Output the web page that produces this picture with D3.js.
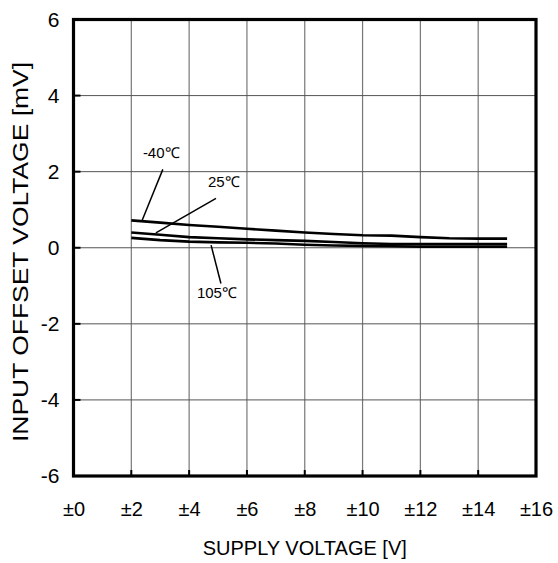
<!DOCTYPE html>
<html>
<head>
<meta charset="utf-8">
<script src="https://cdn.jsdelivr.net/npm/d3@7"></script>
<style>
  body { margin: 0; background: #fff; }
  svg { display: block; }
  text { font-family: "Liberation Sans", Arial, Helvetica, sans-serif; fill: #000; }
</style>
</head>
<body>
<svg id="canvas" width="558" height="563"></svg>
<script>
// supply voltage (±V) and input offset voltage (mV) per temperature
var supply = [2, 3, 4, 5, 6, 7, 8, 9, 10, 11, 12, 13, 14, 15];
var offsetM40 = [0.72, 0.66, 0.60, 0.55, 0.50, 0.45, 0.40, 0.36, 0.33, 0.32, 0.28, 0.25, 0.24, 0.24];
var offset25 = [0.40, 0.34, 0.28, 0.25, 0.22, 0.20, 0.18, 0.15, 0.12, 0.10, 0.10, 0.10, 0.10, 0.10];
var offset105 = [0.26, 0.20, 0.16, 0.14, 0.13, 0.11, 0.08, 0.06, 0.05, 0.04, 0.03, 0.03, 0.03, 0.03];

var xTicks = [0, 2, 4, 6, 8, 10, 12, 14, 16];
var yTicks = [-6, -4, -2, 0, 2, 4, 6];

// curve labels: text anchor and leader line, in data units
var labelNames = ["-40℃", "25℃", "105℃"];
var labelAt = [[2.40, 2.36], [4.65, 1.60], [4.27, -1.32]];
var leaderFrom = [[3.09, 2.06], [4.93, 1.30], [4.76, 0.07]];
var leaderTo = [[2.38, 0.73], [2.85, 0.39], [5.10, -0.94]];

draw();

function draw() {
	var left = 73.5, right = 536, top = 19.5, bottom = 476;

	var svg = d3.select("#canvas");
	var x = d3.scaleLinear().domain([0, 16]).range([left, right]);
	var y = d3.scaleLinear().domain([-6, 6]).range([bottom, top]);

	// grid
	svg.append("g").selectAll("line")
		.data(xTicks.slice(1, -1))
		.enter().append("line")
		.attr("x1", function(d){ return x(d); })
		.attr("x2", function(d){ return x(d); })
		.attr("y1", top).attr("y2", bottom)
		.attr("style", "stroke: #777; stroke-width: 1.2;");

	svg.append("g").selectAll("line")
		.data(yTicks.slice(1, -1))
		.enter().append("line")
		.attr("y1", function(d){ return y(d); })
		.attr("y2", function(d){ return y(d); })
		.attr("x1", left).attr("x2", right)
		.attr("style", "stroke: #555; stroke-width: 1;");

	// small inward stubs on left and bottom
	svg.append("g").selectAll("line")
		.data(yTicks.slice(1, -1))
		.enter().append("line")
		.attr("y1", function(d){ return y(d); })
		.attr("y2", function(d){ return y(d); })
		.attr("x1", left).attr("x2", left + 7)
		.attr("style", "stroke: #000; stroke-width: 2;");

	svg.append("g").selectAll("line")
		.data(xTicks.slice(1, -1))
		.enter().append("line")
		.attr("x1", function(d){ return x(d); })
		.attr("x2", function(d){ return x(d); })
		.attr("y1", bottom).attr("y2", bottom - 6)
		.attr("style", "stroke: #000; stroke-width: 2;");

	// axes labels
	var xAxis = d3.axisBottom(x).tickValues(xTicks).tickSize(0).tickPadding(26)
		.tickFormat(function(d){ return "±" + d; });
	var gx = svg.append("g").attr("transform", "translate(0," + bottom + ")").call(xAxis);
	gx.select(".domain").remove();
	gx.selectAll("text").attr("style", "font-size: 20px;");

	var yAxis = d3.axisLeft(y).tickValues(yTicks).tickSize(0).tickPadding(14)
		.tickFormat(function(d){ return String(d); });
	var gy = svg.append("g").attr("transform", "translate(" + left + ",0)").call(yAxis);
	gy.select(".domain").remove();
	gy.selectAll("text").attr("style", "font-size: 21px;");

	// curves
	var line = d3.line()
		.x(function(d){ return x(d[0]); })
		.y(function(d){ return y(d[1]); });

	[offsetM40, offset25, offset105].forEach(function(vals){
		var pts = supply.map(function(s, i){ return [s, vals[i]]; });
		svg.append("path")
			.attr("d", line(pts))
			.attr("style", "stroke-width: 2.6; stroke-linejoin: round; fill: none; stroke: #000;");
	});

	// labels with leaders
	for (var i = 0; i < labelNames.length; i++) {
		svg.append("line")
			.attr("x1", x(leaderFrom[i][0])).attr("y1", y(leaderFrom[i][1]))
			.attr("x2", x(leaderTo[i][0])).attr("y2", y(leaderTo[i][1]))
			.attr("style", "stroke: #000; stroke-width: 1.5;");
		svg.append("text")
			.attr("x", x(labelAt[i][0]))
			.attr("y", y(labelAt[i][1]))
			.attr("style", "font-size: 15px;")
			.text(labelNames[i]);
	}

	// frame
	svg.append("rect")
		.attr("x", left).attr("y", top)
		.attr("width", right - left).attr("height", bottom - top)
		.attr("style", "fill: none; stroke: #000; stroke-width: 3.2;");

	// titles
	svg.append("text")
		.attr("x", (left + right) / 2)
		.attr("y", 555)
		.attr("text-anchor", "middle")
		.attr("style", "font-size: 20px;")
		.text("SUPPLY VOLTAGE [V]");

	svg.append("text")
		.attr("transform", "translate(28,252) rotate(-90)")
		.attr("text-anchor", "middle")
		.attr("textLength", 380)
		.attr("lengthAdjust", "spacingAndGlyphs")
		.attr("style", "font-size: 22px;")
		.text("INPUT OFFSET VOLTAGE [mV]");
}
</script>
</body>
</html>
